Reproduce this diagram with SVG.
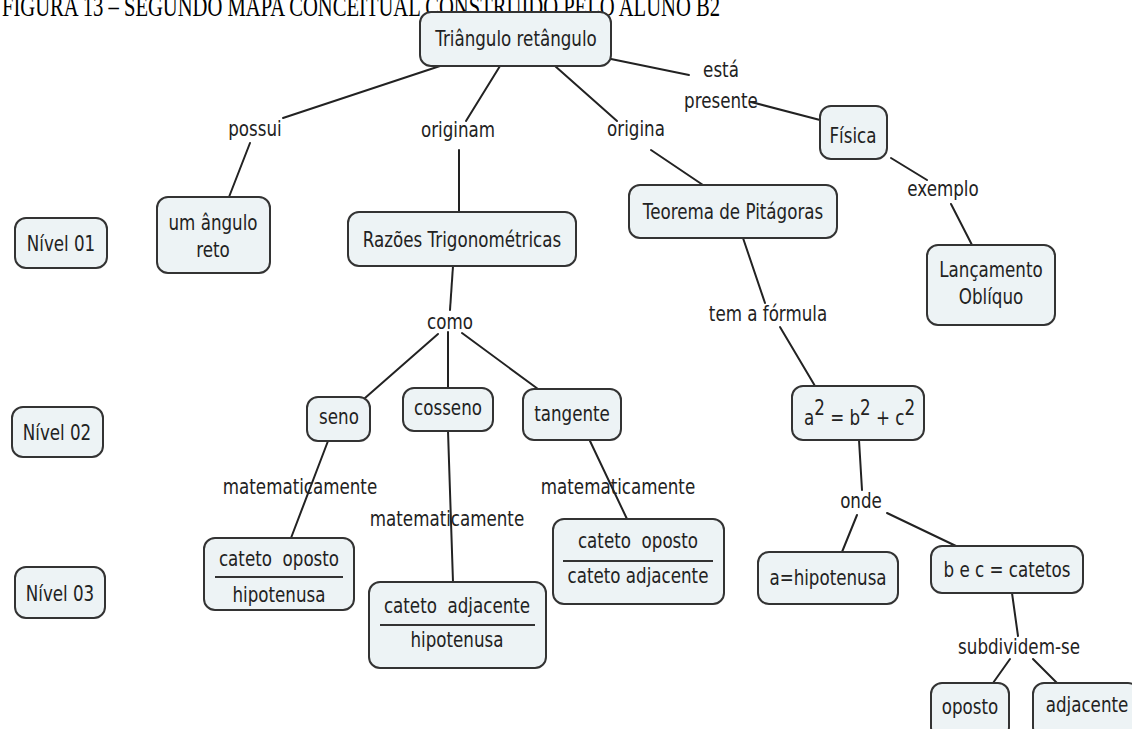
<svg xmlns="http://www.w3.org/2000/svg" width="1132" height="729" viewBox="0 0 1132 729">
  <style>
    .box { fill: #edf3f5; stroke: #333; stroke-width: 2; }
    .rule { stroke: #333; stroke-width: 2; }
    .link { stroke: #222; stroke-width: 2; fill: none; stroke-linecap: round; }
    text { font-family: "DejaVu Sans", Verdana, "Liberation Sans", sans-serif; font-size: 22px; fill: #222; text-anchor: middle; }
    .title { font-family: "Liberation Serif", "Times New Roman", serif; font-size: 29px; fill: #000; text-anchor: start; }
  </style>

  <rect width="1132" height="729" fill="#fff"/>

  <text class="title" x="2" y="16" textLength="718" lengthAdjust="spacingAndGlyphs">FIGURA 13 – SEGUNDO MAPA CONCEITUAL CONSTRUÍDO PELO ALUNO B2</text>

  <!-- connectors -->
  <g id="connectors">
    <line class="link" x1="440" y1="66" x2="283" y2="118"/>
    <line class="link" x1="250" y1="143" x2="229" y2="197"/>
    <line class="link" x1="500" y1="66" x2="466" y2="121"/>
    <line class="link" x1="459" y1="150" x2="459" y2="212"/>
    <line class="link" x1="555" y1="66" x2="617" y2="121"/>
    <line class="link" x1="651" y1="150" x2="703" y2="185"/>
    <line class="link" x1="611" y1="59" x2="689" y2="75"/>
    <line class="link" x1="751" y1="102" x2="820" y2="120"/>
    <line class="link" x1="891" y1="158" x2="927" y2="180"/>
    <line class="link" x1="951" y1="204" x2="972" y2="245"/>
    <line class="link" x1="453" y1="266" x2="450" y2="310"/>
    <line class="link" x1="438" y1="334" x2="365" y2="398"/>
    <line class="link" x1="448" y1="332" x2="448" y2="388"/>
    <line class="link" x1="462" y1="333" x2="538" y2="389"/>
    <line class="link" x1="328" y1="441" x2="291" y2="538"/>
    <line class="link" x1="448" y1="431" x2="453" y2="582"/>
    <line class="link" x1="590" y1="441" x2="627" y2="519"/>
    <line class="link" x1="743" y1="238" x2="765" y2="303"/>
    <line class="link" x1="780" y1="327" x2="815" y2="386"/>
    <line class="link" x1="859" y1="440" x2="862" y2="490"/>
    <line class="link" x1="857" y1="515" x2="842" y2="552"/>
    <line class="link" x1="887" y1="513" x2="956" y2="546"/>
    <line class="link" x1="1012" y1="593" x2="1018" y2="636"/>
    <line class="link" x1="1010" y1="659" x2="993" y2="683"/>
    <line class="link" x1="1033" y1="659" x2="1057" y2="683"/>
  </g>

  <!-- linking phrases -->
  <g id="labels">
    <text transform="translate(255,136) scale(0.76 1)">possui</text>
    <text transform="translate(458,137) scale(0.76 1)">originam</text>
    <text transform="translate(636,136) scale(0.76 1)">origina</text>
    <text transform="translate(721,77) scale(0.76 1)">está</text>
    <text transform="translate(721,108) scale(0.76 1)">presente</text>
    <text transform="translate(943,196) scale(0.76 1)">exemplo</text>
    <text transform="translate(768,321) scale(0.76 1)">tem a fórmula</text>
    <text transform="translate(450,329) scale(0.76 1)">como</text>
    <text transform="translate(300,494) scale(0.76 1)">matematicamente</text>
    <text transform="translate(447,526) scale(0.76 1)">matematicamente</text>
    <text transform="translate(618,494) scale(0.76 1)">matematicamente</text>
    <text transform="translate(861,508) scale(0.76 1)">onde</text>
    <text transform="translate(1019,654) scale(0.76 1)">subdividem-se</text>
  </g>

  <!-- concepts -->
  <g id="triangulo">
    <rect class="box" x="420" y="12" width="191" height="54" rx="11"/>
    <text transform="translate(516,46) scale(0.76 1)">Triângulo retângulo</text>
  </g>
  <g id="fisica">
    <rect class="box" x="820" y="106" width="67" height="53" rx="11"/>
    <text transform="translate(853,143) scale(0.76 1)">Física</text>
  </g>
  <g id="nivel01">
    <rect class="box" x="15" y="218" width="92" height="50" rx="11"/>
    <text transform="translate(61,251) scale(0.76 1)">Nível 01</text>
  </g>
  <g id="angulo-reto">
    <rect class="box" x="157" y="197" width="113" height="76" rx="11"/>
    <text transform="translate(213,230) scale(0.76 1)">um ângulo</text>
    <text transform="translate(213,257) scale(0.76 1)">reto</text>
  </g>
  <g id="razoes">
    <rect class="box" x="348" y="212" width="228" height="54" rx="11"/>
    <text transform="translate(462,247) scale(0.76 1)">Razões Trigonométricas</text>
  </g>
  <g id="pitagoras">
    <rect class="box" x="629" y="185" width="208" height="53" rx="11"/>
    <text transform="translate(733,219) scale(0.76 1)">Teorema de Pitágoras</text>
  </g>
  <g id="lancamento">
    <rect class="box" x="927" y="245" width="128" height="80" rx="11"/>
    <text transform="translate(991,277) scale(0.76 1)">Lançamento</text>
    <text transform="translate(991,304) scale(0.76 1)">Oblíquo</text>
  </g>
  <g id="nivel02">
    <rect class="box" x="12" y="407" width="91" height="50" rx="11"/>
    <text transform="translate(57,440) scale(0.76 1)">Nível 02</text>
  </g>
  <g id="seno">
    <rect class="box" x="307" y="397" width="63" height="44" rx="11"/>
    <text transform="translate(339,424) scale(0.76 1)">seno</text>
  </g>
  <g id="cosseno">
    <rect class="box" x="403" y="388" width="90" height="43" rx="11"/>
    <text transform="translate(448,415) scale(0.76 1)">cosseno</text>
  </g>
  <g id="tangente">
    <rect class="box" x="523" y="389" width="98" height="51" rx="11"/>
    <text transform="translate(572,421) scale(0.76 1)">tangente</text>
  </g>
  <g id="formula">
    <rect class="box" x="792" y="386" width="132" height="54" rx="11"/>
    <text transform="translate(804,425) scale(0.76 1)" style="text-anchor:start">a<tspan dy="-10">2</tspan><tspan dy="10"> = b</tspan><tspan dy="-10">2</tspan><tspan dy="10"> + c</tspan><tspan dy="-10">2</tspan></text>
  </g>
  <g id="nivel03">
    <rect class="box" x="15" y="567" width="90" height="51" rx="11"/>
    <text transform="translate(60,601) scale(0.76 1)">Nível 03</text>
  </g>
  <g id="seno-razao">
    <rect class="box" x="204" y="538" width="150" height="72" rx="11"/>
    <text transform="translate(279,566) scale(0.76 1)">cateto&#160; oposto</text>
    <line class="rule" x1="215" y1="577" x2="343" y2="577"/>
    <text transform="translate(279,602) scale(0.76 1)">hipotenusa</text>
  </g>
  <g id="cosseno-razao">
    <rect class="box" x="369" y="582" width="177" height="86" rx="11"/>
    <text transform="translate(457,613) scale(0.76 1)">cateto&#160; adjacente</text>
    <line class="rule" x1="380" y1="625" x2="535" y2="625"/>
    <text transform="translate(457,647) scale(0.76 1)">hipotenusa</text>
  </g>
  <g id="tangente-razao">
    <rect class="box" x="553" y="519" width="171" height="85" rx="11"/>
    <text transform="translate(638,548) scale(0.76 1)">cateto&#160; oposto</text>
    <line class="rule" x1="563" y1="561" x2="713" y2="561"/>
    <text transform="translate(638,583) scale(0.76 1)">cateto adjacente</text>
  </g>
  <g id="hipotenusa">
    <rect class="box" x="758" y="552" width="140" height="52" rx="11"/>
    <text transform="translate(828,585) scale(0.76 1)">a=hipotenusa</text>
  </g>
  <g id="catetos">
    <rect class="box" x="931" y="546" width="152" height="47" rx="11"/>
    <text transform="translate(1007,577) scale(0.76 1)">b e c = catetos</text>
  </g>
  <g id="oposto">
    <rect class="box" x="931" y="683" width="78" height="55" rx="11"/>
    <text transform="translate(970,714) scale(0.76 1)">oposto</text>
  </g>
  <g id="adjacente">
    <rect class="box" x="1033" y="683" width="106" height="55" rx="11"/>
    <text transform="translate(1087,712) scale(0.76 1)">adjacente</text>
  </g>
</svg>
